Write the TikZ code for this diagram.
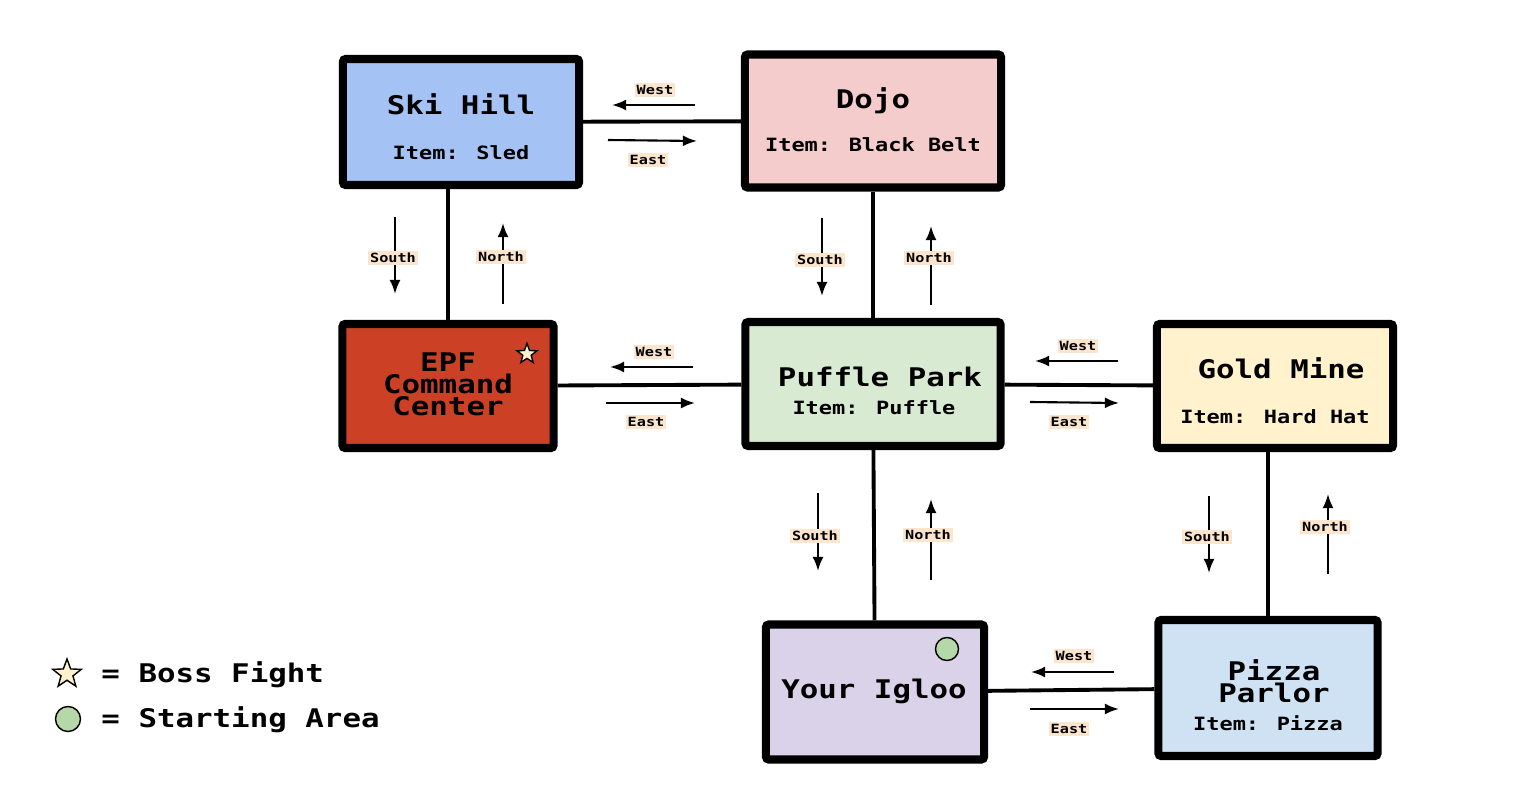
\documentclass[tikz,border=0pt]{standalone}
\usepackage{fontspec}
\newfontfamily\pixfont{DejaVu Sans Mono}[FakeStretch=1.2]
\usetikzlibrary{arrows.meta}
\usetikzlibrary{shapes.geometric}
\definecolor{skiblue}{HTML}{A4C2F4}
\definecolor{dojopink}{HTML}{F4CCCC}
\definecolor{epfred}{HTML}{CC4125}
\definecolor{parkgreen}{HTML}{D9EAD3}
\definecolor{minecream}{HTML}{FFF2CC}
\definecolor{igloolilac}{HTML}{D9D2E9}
\definecolor{pizzablue}{HTML}{CFE2F3}
\definecolor{labpeach}{HTML}{FCE5CD}
\definecolor{startgreen}{HTML}{B6D7A8}
\tikzset{
  room/.style={draw,line width=2.3pt,rounded corners=0.8pt,inner sep=0pt},
  title/.style={font=\pixfont\bfseries\fontsize{7.3}{6.26}\selectfont,align=center},
  item/.style={font=\pixfont\bfseries\fontsize{5.2}{6}\selectfont,anchor=base},
  link/.style={line width=1.1pt},
  dir/.style={line width=0.6pt,-{Latex[length=4pt,width=3.1pt]}},
  dirlab/.style={fill=labpeach,inner sep=0.5pt,text height=2.7pt,text depth=0.2pt,
    font=\pixfont\bfseries\fontsize{3.6}{4}\selectfont},
}

\begin{document}
\begin{tikzpicture}[x=0.01cm,y=-0.01cm]
\useasboundingbox (0,0) rectangle (1532,806);
% rooms
\node[room,fill=skiblue,minimum width=2.36cm,minimum height=1.26cm] (ski) at (461,122) {};
\node[room,fill=dojopink,minimum width=2.56cm,minimum height=1.33cm] (dojo) at (873,121) {};
\node[room,fill=epfred,minimum width=2.11cm,minimum height=1.24cm] (epf) at (448,386) {};
\node[room,fill=parkgreen,minimum width=2.55cm,minimum height=1.24cm] (park) at (873,384) {};
\node[room,fill=minecream,minimum width=2.36cm,minimum height=1.24cm] (mine) at (1275,386) {};
\node[room,fill=igloolilac,minimum width=2.18cm,minimum height=1.35cm] (igloo) at (875,692) {};
\node[room,fill=pizzablue,minimum width=2.19cm,minimum height=1.36cm] (pizza) at (1268,688) {};
% names and items
\node[title,anchor=base] (skiT) at (461,114) {Ski Hill};
\node[item] (skiI) at (461,159.5) {Item: Sled};
\node[title,anchor=base] (dojoT) at (873,109) {Dojo};
\node[item] (dojoI) at (873,151.5) {Item: Black Belt};
\node[title] (epfT) at (448,384) {EPF\\Command\\Center};
\node[title,anchor=base] (parkT) at (880,386) {Puffle Park};
\node[item] (parkI) at (874,414.5) {Item: Puffle};
\node[title,anchor=base] (mineT) at (1281,378) {Gold Mine};
\node[item] (mineI) at (1275,423.5) {Item: Hard Hat};
\node[title,anchor=base] (iglooT) at (874,698) {Your Igloo};
\node[title] (pizzaT) at (1274,681) {Pizza\\Parlor};
\node[item] (pizzaI) at (1268,730.5) {Item: Pizza};
% marks
\node[star,star points=5,star point ratio=2.4,draw,fill=minecream,line width=0.4pt,
  inner sep=0pt,minimum size=0.21cm] (boss) at (527,354) {};
\node[circle,draw,fill=startgreen,line width=0.4pt,inner sep=0pt,
  minimum size=0.23cm] (start) at (947,649) {};
% links
\draw[link] (ski) -- (dojo);
\draw[link] (epf.north) -- (epf.north |- ski.south);
\draw[link] (dojo) -- (park);
\draw[link] (epf) -- (park);
\draw[link] (park) -- (mine);
\draw[link] (park) -- (igloo);
\draw[link] (pizza.north) -- (pizza.north |- mine.south);
\draw[link] (igloo) -- (pizza);
% direction arrows
\coordinate (w1a) at (695,105);
\coordinate (w1b) at (612,105);
\coordinate (e1a) at (608,140);
\coordinate (e1b) at (697,141);
\coordinate (w2a) at (693,367);
\coordinate (w2b) at (610,367);
\coordinate (e2a) at (606,403);
\coordinate (e2b) at (695,403);
\coordinate (w3a) at (1118,361);
\coordinate (w3b) at (1035,361);
\coordinate (e3a) at (1030,402);
\coordinate (e3b) at (1119,403);
\coordinate (w4a) at (1114,672);
\coordinate (w4b) at (1031,672);
\coordinate (e4a) at (1030,709);
\coordinate (e4b) at (1119,709);
\coordinate (s1a) at (395,217);
\coordinate (s1b) at (395,294);
\coordinate (n1a) at (503,304);
\coordinate (n1b) at (503,223);
\coordinate (s2a) at (822,218);
\coordinate (s2b) at (822,296);
\coordinate (n2a) at (931,305);
\coordinate (n2b) at (931,226);
\coordinate (s3a) at (818,493);
\coordinate (s3b) at (818,571);
\coordinate (n3a) at (931,580);
\coordinate (n3b) at (931,499);
\coordinate (s4a) at (1209,496);
\coordinate (s4b) at (1209,573);
\coordinate (n4a) at (1328,574);
\coordinate (n4b) at (1328,494);
\draw[dir] (w1a) -- (w1b);
\draw[dir] (e1a) -- (e1b);
\draw[dir] (w2a) -- (w2b);
\draw[dir] (e2a) -- (e2b);
\draw[dir] (w3a) -- (w3b);
\draw[dir] (e3a) -- (e3b);
\draw[dir] (w4a) -- (w4b);
\draw[dir] (e4a) -- (e4b);
\draw[dir] (s1a) -- (s1b);
\draw[dir] (n1a) -- (n1b);
\draw[dir] (s2a) -- (s2b);
\draw[dir] (n2a) -- (n2b);
\draw[dir] (s3a) -- (s3b);
\draw[dir] (n3a) -- (n3b);
\draw[dir] (s4a) -- (s4b);
\draw[dir] (n4a) -- (n4b);
\node[dirlab] (w1) at (655,90) {West};
\node[dirlab] (e1) at (648,160) {East};
\node[dirlab] (w2) at (654,352) {West};
\node[dirlab] (e2) at (646,422) {East};
\node[dirlab] (w3) at (1078,346) {West};
\node[dirlab] (e3) at (1069,422) {East};
\node[dirlab] (w4) at (1074,656) {West};
\node[dirlab] (e4) at (1069,729) {East};
\node[dirlab] (s1) at (393,258) {South};
\node[dirlab] (n1) at (501,257) {North};
\node[dirlab] (s2) at (820,260) {South};
\node[dirlab] (n2) at (929,258) {North};
\node[dirlab] (s3) at (815,536) {South};
\node[dirlab] (n3) at (928,535) {North};
\node[dirlab] (s4) at (1207,537) {South};
\node[dirlab] (n4) at (1325,527) {North};
% legend
\node[star,star points=5,star point ratio=2.4,draw,fill=minecream,line width=0.4pt,
  inner sep=0pt,minimum size=0.3cm] (bossK) at (67,674) {};
\node[title,anchor=base west] (bossL) at (89,682) {= Boss Fight};
\node[circle,draw,fill=startgreen,line width=0.4pt,inner sep=0pt,
  minimum size=0.25cm] (startK) at (68,719) {};
\node[title,anchor=base west] (startL) at (89,727) {= Starting Area};
\end{tikzpicture}
\end{document}
